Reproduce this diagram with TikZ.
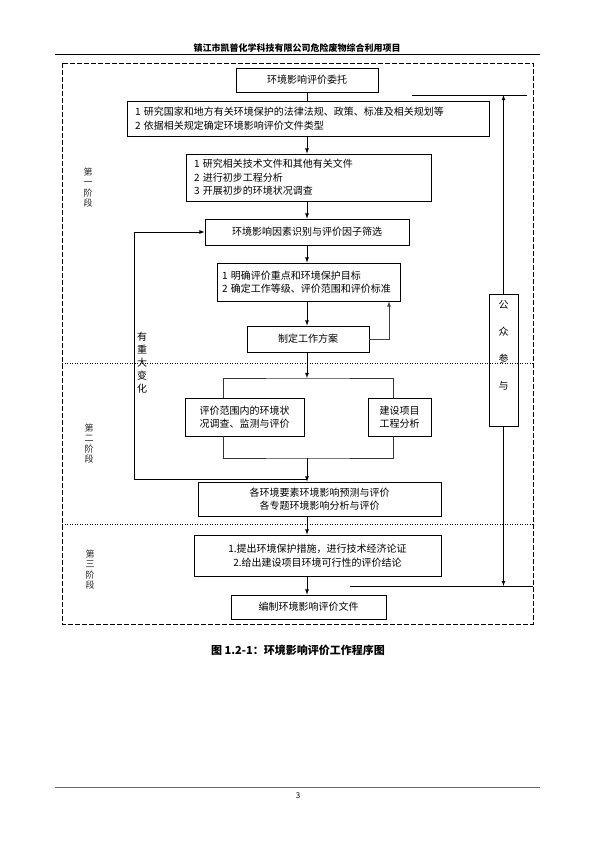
\documentclass[tikz,border=0pt]{standalone}
\usepackage{fontspec}
\setmainfont{Noto Sans CJK SC}
\usetikzlibrary{arrows, positioning}

\begin{document}
\begin{tikzpicture}[x=1pt, y=-1pt, >=latex, line width=0.8pt, font=\fontsize{10}{13.5}\selectfont,
    box/.style={draw, rectangle, inner xsep=8pt, inner ysep=0pt, align=center},
    leftbox/.style={box, align=left},
    stage/.style={font=\fontsize{9}{10.4}\selectfont, align=center, text=black!85},
    frame/.style={line width=0.7pt, dash pattern=on 5pt off 2pt},
    divider/.style={line width=0.5pt, dotted}]

\useasboundingbox (0,0) rectangle (595,842);

% page head and foot
\node[font=\fontsize{9}{11}\selectfont\bfseries] (head) at (297,48) {镇江市凯普化学科技有限公司危险废物综合利用项目};
\coordinate (headL) at (55,54);
\coordinate (headR) at (540,54);
\draw[line width=0.6pt] (headL) -- (headR);
\coordinate (footL) at (55,787);
\coordinate (footR) at (540,787);
\draw[line width=0.4pt, black!60] (footL) -- (footR);
\node[font=\fontsize{8}{10}\selectfont] (pageno) at (298,796) {3};

% frame and stage dividers
\draw[frame] (62,63) rectangle (533,624);
\coordinate (div1L) at (62,363);
\coordinate (div1R) at (533,363);
\coordinate (div2L) at (62,524);
\coordinate (div2R) at (533,524);
\draw[divider] (div1L) -- (div1R);
\draw[divider] (div2L) -- (div2R);

\node[stage] (st1) at (88,187.5) {第\\一\\阶\\段};
\node[stage] (st2) at (89,443.5) {第\\二\\阶\\段};
\node[stage] (st3) at (90,569.5) {第\\三\\阶\\段};

% stage one
\node[box, minimum width=142pt, minimum height=24pt] (entrust) at (307,80) {环境影响评价委托};
\node[leftbox, text width=346pt, minimum height=35pt] (law) at (308,118.5)
    {1 研究国家和地方有关环境保护的法律法规、政策、标准及相关规划等\\2 依据相关规定确定环境影响评价文件类型};
\node[leftbox, text width=229pt, minimum height=47pt] (prelim) at (308.5,177.5)
    {1 研究相关技术文件和其他有关文件\\2 进行初步工程分析\\3 开展初步的环境状况调查};
\node[box, minimum width=204pt, minimum height=26pt] (screen) at (307,232) {环境影响因素识别与评价因子筛选};
\node[leftbox, inner xsep=5pt, text width=173pt, minimum height=38pt] (goal) at (308.5,282)
    {1 明确评价重点和环境保护目标\\2~确定工作等级、评价范围和评价标准};
\node[box, minimum width=122pt, minimum height=26pt] (plan) at (308,339) {制定工作方案};

% stage two
\node[box, minimum width=119pt, minimum height=38pt] (survey) at (244.5,417) {评价范围内的环境状\\况调查、监测与评价};
\node[box, minimum width=63pt, minimum height=38pt, inner xsep=2pt] (project) at (399.5,417) {建设项目\\工程分析};
\node[box, minimum width=243pt, minimum height=34pt] (predict) at (319.5,499)
    {各环境要素环境影响预测与评价\\各专题环境影响分析与评价};

% stage three
\node[box, minimum width=247pt, minimum height=41pt] (measure) at (317.5,555.5)
    {1.提出环境保护措施，进行技术经济论证\\2.给出建设项目环境可行性的评价结论};
\node[box, minimum width=155pt, minimum height=24pt] (report) at (308.5,607) {编制环境影响评价文件};

% public participation
\node[box, minimum width=29pt, minimum height=132pt, inner xsep=0pt] (public) at (503.5,360) {};
\node[font=\fontsize{10}{27}\selectfont, align=center] (pubtext) at (503.5,345.5) {公\\众\\参\\与};

% main flow
\coordinate (axis) at (307,0);
\draw (entrust.south -| axis) -- (law.north -| axis);
\draw[->] (law.south -| axis) -- (prelim.north -| axis);
\draw[->] (prelim.south -| axis) -- (screen.north -| axis);
\draw[->] (screen.south -| axis) -- (goal.north -| axis);
\draw[->] (goal.south -| axis) -- (plan.north -| axis);
\coordinate (backx) at (389,0);
\draw[->, black!75] (plan.east) -| (goal.south -| backx);

\coordinate (brtop) at (307,378);
\coordinate (brbot) at (307,458);
\coordinate (legL) at (223,0);
\coordinate (legR) at (393,0);
\draw[->] (plan.south -| axis) -- (brtop);
\draw[black!80] (survey.north -| legL) |- (brtop) -| (project.north -| legR);
\draw[black!80] (survey.south -| legL) |- (brbot) -| (project.south -| legR);
\draw[->] (brbot) -- (predict.north -| axis);

% loop back on major change
\coordinate (loopbot) at (307,479);
\coordinate (loopx) at (134,0);
\draw[->] (loopbot) -| (loopx |- screen.west) -- (screen.west);
\node[font=\fontsize{10}{13}\selectfont, align=center] (change) at (142,363) {有\\重\\大\\变\\化};

\draw[->] (predict.south -| axis) -- (measure.north -| axis);
\draw[->] (measure.south -| axis) -- (report.north -| axis);

% public participation links
\coordinate (pubtopL) at (412,95);
\coordinate (pubtopR) at (527,95);
\coordinate (pubbotL) at (350,586);
\coordinate (pubbotR) at (533,586);
\draw (pubtopL) -- (pubtopR);
\draw (pubbotL) -- (pubbotR);
\draw[->] (public.north) -- (public.north |- pubtopL);
\draw[->] (public.south) -- (public.south |- pubbotL);

% caption
\node[font=\fontsize{11}{13}\selectfont\bfseries] (caption) at (298,650) {图 1.2-1：环境影响评价工作程序图};
\end{tikzpicture}
\end{document}
